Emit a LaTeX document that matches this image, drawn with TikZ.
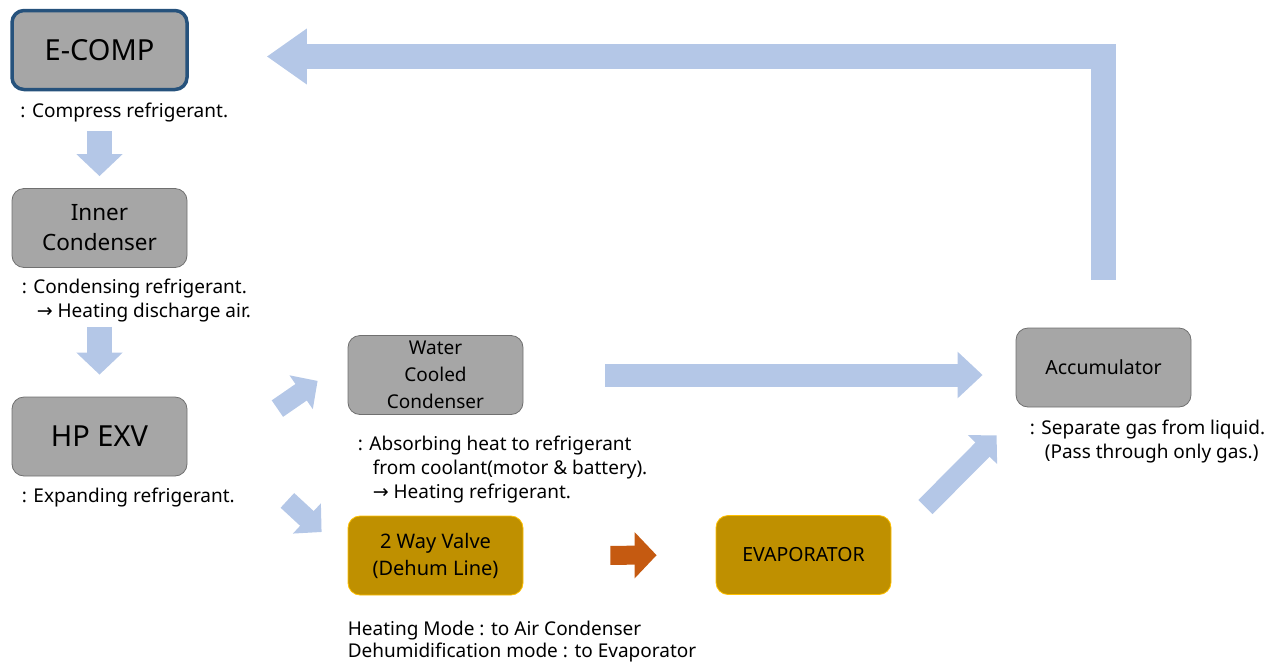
\documentclass[tikz,border=0pt]{standalone}
\usepackage{fontspec}
\setmainfont{Noto Sans}
\newfontfamily\arrowfont{DejaVu Sans}
\usetikzlibrary{arrows.meta,calc}
\tikzset{
  unit-box/.style={
    rectangle,
    rounded corners=12pt,
    minimum width=175pt,
    minimum height=79pt,
    align=center,
    inner sep=2pt,
    line width=0.8pt
  },
  box-gray/.style={unit-box, fill=boxgray, draw=boxedge},
  box-comp/.style={unit-box, fill=boxgray, draw=compedge, line width=3.5pt},
  box-gold/.style={unit-box, fill=valvegold, draw=valveedge},
  note/.style={anchor=north west, align=left, inner sep=0pt, font=\fontsize{19}{24}\selectfont},
  flow/.style={draw=arrowblue, line width=25pt, -{Triangle[length=22pt,width=45pt]}},
  flow-diag/.style={draw=arrowblue, line width=20pt, -{Triangle[length=20pt,width=40pt]}},
  flow-long/.style={draw=arrowblue, line width=23pt, -{Triangle[length=25pt,width=45pt]}},
  flow-return/.style={draw=arrowblue, line width=25pt, line join=miter, -{Triangle[length=40pt,width=53pt]}},
  flow-hot/.style={draw=hotorange, line width=19pt, -{Triangle[length=22pt,width=45pt]}}
}
\definecolor{arrowblue}{RGB}{180,199,231}
\definecolor{boxgray}{RGB}{166,166,166}
\definecolor{boxedge}{RGB}{112,112,112}
\definecolor{compedge}{RGB}{38,82,124}
\definecolor{valvegold}{RGB}{191,144,0}
\definecolor{valveedge}{RGB}{255,192,0}
\definecolor{hotorange}{RGB}{197,90,17}
\newcommand{\toarrow}{{\arrowfont →}}
\newcommand{\indentnote}{\hspace*{15pt}}

\begin{document}
\begin{tikzpicture}[x=1pt, y=-1pt]
  \useasboundingbox (0,0) rectangle (1286,665);

  \node[box-comp, font=\fontsize{29}{32}\selectfont] (ecomp) at (99.5,50) {E-COMP};
  \node[box-gray, font=\fontsize{22.5}{30}\selectfont] (inner) at (99.5,228) {Inner\\Condenser};
  \node[box-gray, font=\fontsize{29}{32}\selectfont] (hpexv) at (99.5,436.5) {HP EXV};
  \node[box-gray, font=\fontsize{19}{27}\selectfont] (water) at (435.5,375) {Water\\Cooled\\Condenser};
  \node[box-gold, font=\fontsize{20}{27}\selectfont] (valve) at (435.5,555.5) {2 Way Valve\\(Dehum Line)};
  \node[box-gold, font=\fontsize{19.5}{27}\selectfont] (evap) at (803.5,555) {EVAPORATOR};
  \node[box-gray, font=\fontsize{19.5}{27}\selectfont] (acc) at (1103.5,367.5) {Accumulator};

  \node[note] (ecomp-note) at ([shift={(10,12)}]ecomp.south west) {: Compress refrigerant.};
  \node[note] (inner-note) at ([shift={(10,11)}]inner.south west)
    {: Condensing refrigerant.\\\indentnote\toarrow\ Heating discharge air.};
  \node[note] (hpexv-note) at ([shift={(10,11)}]hpexv.south west) {: Expanding refrigerant.};
  \node[note] (water-note) at ([shift={(10,21)}]water.south west)
    {: Absorbing heat to refrigerant\\\indentnote from coolant(motor \& battery).\\\indentnote\toarrow\ Heating refrigerant.};
  \node[note] (acc-note) at ([shift={(14,12)}]acc.south west)
    {: Separate gas from liquid.\\\indentnote(Pass through only gas.)};
  \node[note, font=\fontsize{19}{22.5}\selectfont] (valve-note) at ([shift={(0,25)}]valve.south west)
    {Heating Mode : to Air Condenser\\Dehumidification mode : to Evaporator};

  \draw[flow, shorten <=40pt, shorten >=12pt] (ecomp) -- (inner);
  \draw[flow, shorten <=59pt, shorten >=22pt] (inner) -- (hpexv);
  \draw[flow-diag] ([shift={(90,12)}]hpexv.north east) -- ([shift={(-30,-34)}]water.south west);
  \draw[flow-diag] ([shift={(100,24)}]hpexv.south east) -- ([shift={(-26,-23.5)}]valve.west);
  \draw[flow-long] ([xshift=82pt]water.east) -- ($(water.east -| acc.west)+(-33,0)$);
  \draw[flow-hot, shorten <=87pt, shorten >=59pt] (valve) -- (evap);
  \draw[flow-diag] ([shift={(34,-8)}]evap.north east) -- ([shift={(-19,28)}]acc.south west);
  % back to the compressor
  \draw[flow-return] ([yshift=48pt]acc.north) |- ([shift={(78,6.5)}]ecomp.east);
\end{tikzpicture}
\end{document}
